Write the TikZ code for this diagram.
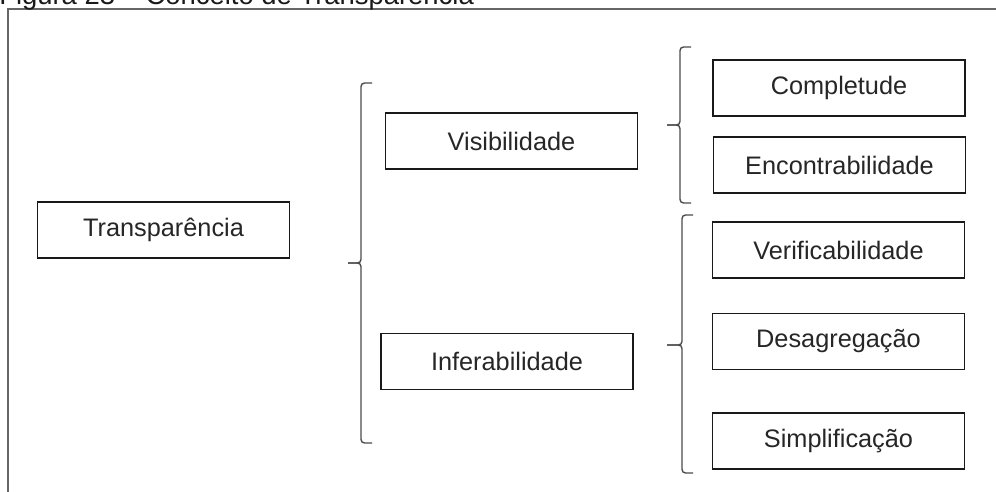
\documentclass[tikz,border=0pt]{standalone}
\usepackage{fontspec}
\setmainfont{Liberation Sans}
\usepackage{tikz}

\tikzset{
  conceito/.style={draw=black!90,line width=1.3pt,minimum width=6.3cm,minimum height=1.4cm,
    inner sep=0pt,font=\fontsize{18}{20}\selectfont,text=black!85},
  chave/.style={draw=black!70,line width=1pt,rounded corners=2.5pt},
}

\begin{document}
\begin{tikzpicture}[x=0.025cm,y=-0.025cm]
    \useasboundingbox (0,0) rectangle (996,492);
    \clip (0,0) rectangle (996,492);
    % moldura e titulo
    \draw[black!60,line width=1.2pt] (996,9) -- (8,9) -- (8,495);
    \node[anchor=base west,inner sep=0pt,font=\fontsize{19.5}{22}\selectfont,text=black!90] (titulo) at (-1,5)
      {Figura 23 -- Conceito de Transparência};
    % caixas
    \node[conceito] (transp) at (163.5,230) {Transparência};
    \node[conceito] (visib) at (511.5,141) {Visibilidade};
    \node[conceito] (infer) at (507,361.5) {Inferabilidade};
    \node[conceito] (complet) at (839,88) {Completude};
    \node[conceito] (encont) at (839.5,165) {Encontrabilidade};
    \node[conceito] (verif) at (838.5,250) {Verificabilidade};
    \node[conceito] (desagr) at (838.5,341.5) {Desagregação};
    \node[conceito] (simpl) at (838.5,441) {Simplificação};
    % chaves
    \draw[chave] (372,83) -- (361,83) -- (361,263) -- (348,263);
    \draw[chave] (348,263) -- (361,263) -- (361,443) -- (372,443);
    \draw[chave] (691,47) -- (680,47) -- (680,125) -- (667,125);
    \draw[chave] (667,125) -- (680,125) -- (680,203) -- (691,203);
    \draw[chave] (693,215) -- (682,215) -- (682,345) -- (667,345);
    \draw[chave] (667,345) -- (682,345) -- (682,473) -- (693,473);
\end{tikzpicture}
\end{document}
